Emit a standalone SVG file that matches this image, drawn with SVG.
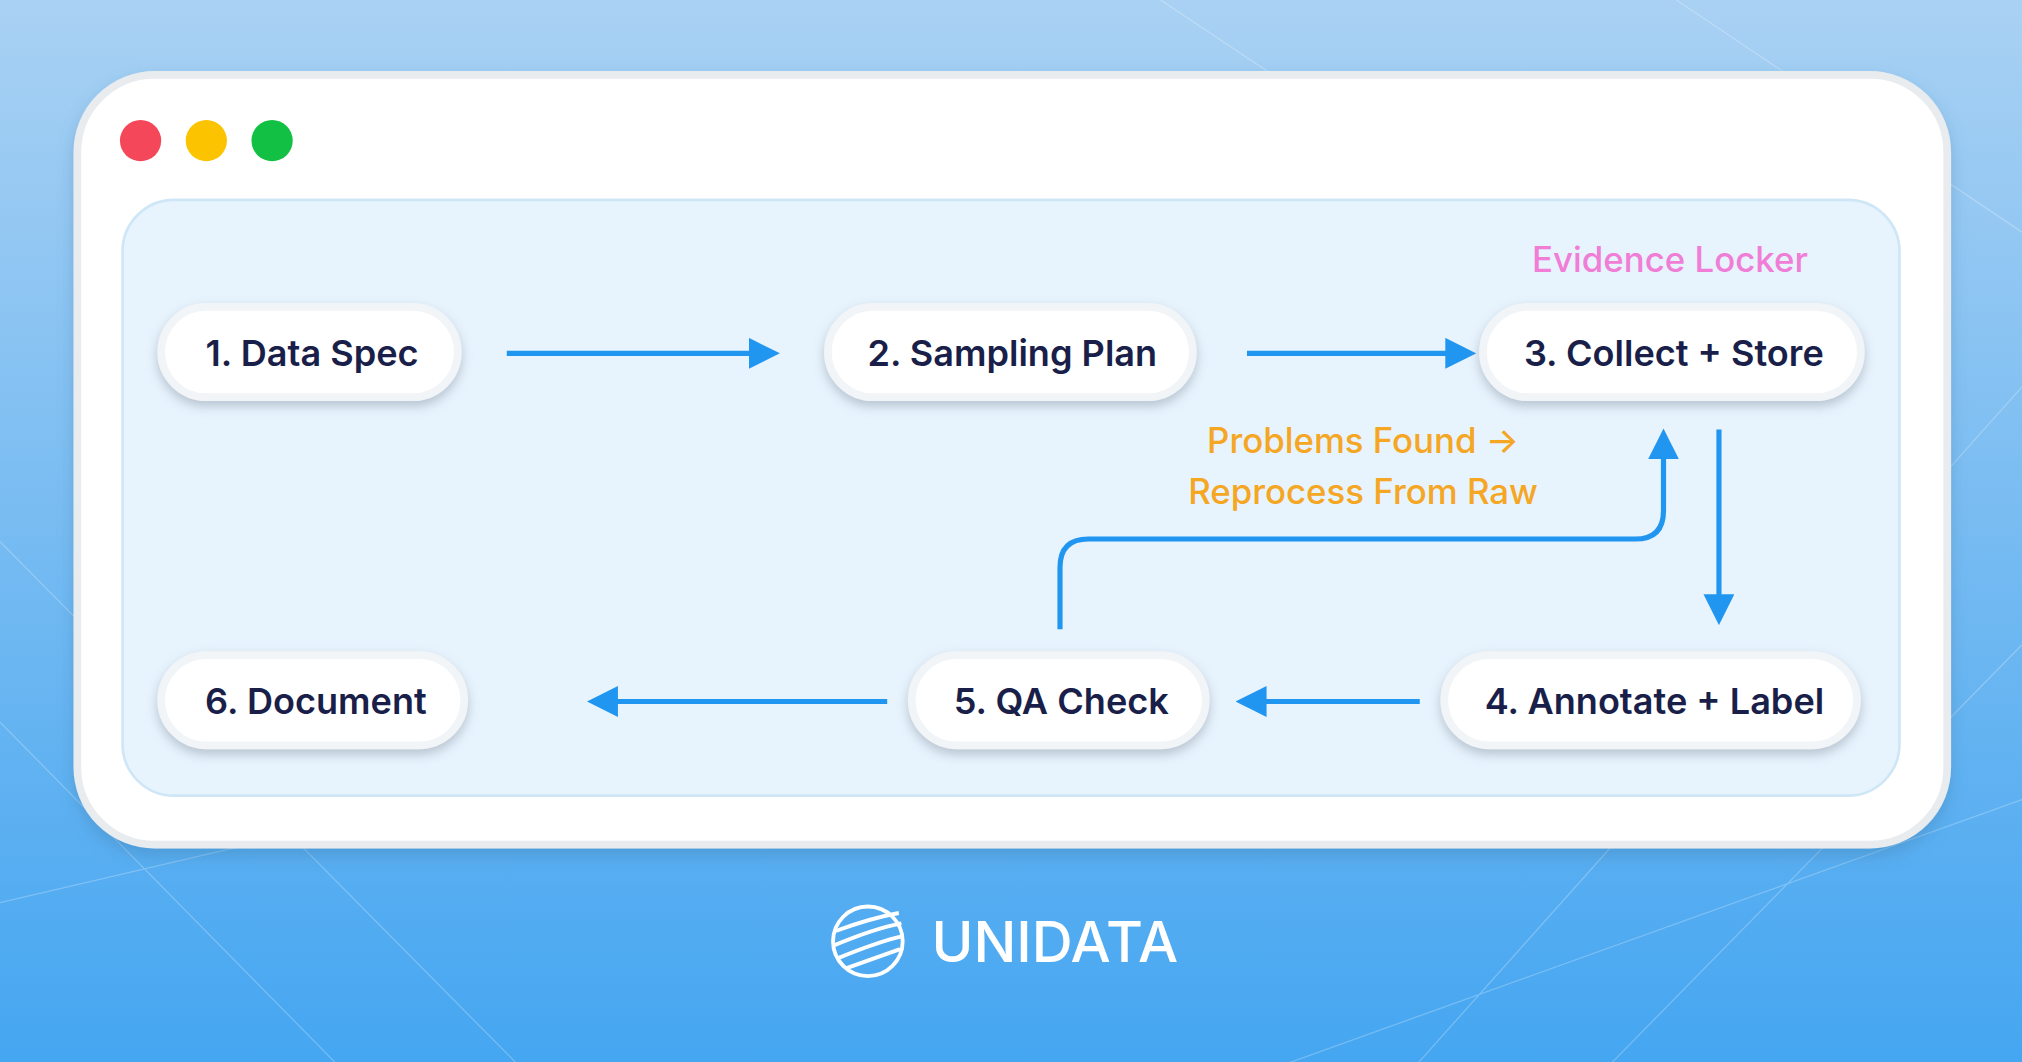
<svg xmlns="http://www.w3.org/2000/svg" width="2022" height="1062" viewBox="0 0 2022 1062">
<defs>
<linearGradient id="bg" x1="0" y1="0" x2="0" y2="1"><stop offset="0" stop-color="#a9d1f3"/><stop offset="1" stop-color="#45a6f1"/></linearGradient>
<filter id="sh" x="-20%" y="-40%" width="140%" height="180%"><feDropShadow dx="0" dy="4" stdDeviation="4" flood-color="#7a8a9a" flood-opacity="0.45"/></filter>
<filter id="wsh" x="-5%" y="-5%" width="110%" height="115%"><feDropShadow dx="0" dy="6" stdDeviation="6" flood-color="#3a6f9a" flood-opacity="0.3"/></filter>
<marker id="ah" viewBox="0 0 10 10" refX="8" refY="5" markerWidth="6" markerHeight="6" orient="auto-start-reverse" markerUnits="strokeWidth"><path d="M0,0 L10,5 L0,10 z" fill="#2196f0"/></marker>
<style>
.pill{fill:#ffffff;stroke:#f2f5f8;stroke-width:6}
.lbl{font-family:Inter,"Liberation Sans",sans-serif;font-weight:600;font-size:28px;fill:#1a1f4a;text-anchor:middle}
.ln{fill:none;stroke:#2196f0;stroke-width:4}
.note{font-family:Inter,"Liberation Sans",sans-serif;font-weight:500;font-size:27px;text-anchor:middle}
</style>
</defs>
<rect width="2022" height="1062" fill="url(#bg)"/>
<g transform="scale(1.28954)">
<g stroke="#ffffff" stroke-opacity="0.25" stroke-width="1" fill="none">
<path d="M0,420 L400,824 M0,560 L260,824 M1568,300 L1100,824 M1568,500 L1250,824 M900,0 L1200,200 M1300,0 L1568,180 M0,700 L600,560 M1000,824 L1568,620"/>
</g>
<rect x="60" y="58" width="1450" height="597" rx="60" fill="#ffffff" stroke="#e9ecef" stroke-width="6" filter="url(#wsh)"/>
<circle cx="109" cy="109" r="16" fill="#f5475a"/>
<circle cx="160" cy="109" r="16" fill="#fcc400"/>
<circle cx="211" cy="109" r="16" fill="#12c043"/>
<rect x="95" y="155" width="1378" height="462" rx="40" fill="#e7f3fd" stroke="#cfe6f7" stroke-width="2"/>
<g id="connectors">
<path class="ln" d="M393,274 H600" marker-end="url(#ah)"/>
<path class="ln" d="M967,274 H1140" marker-end="url(#ah)"/>
<path class="ln" d="M1333,333 V480" marker-end="url(#ah)"/>
<path class="ln" d="M1101,544 H963" marker-end="url(#ah)"/>
<path class="ln" d="M688,544 H460" marker-end="url(#ah)"/>
<path class="ln" d="M822,488 V440 Q822,418 844,418 H1268 Q1290,418 1290,396 V337" marker-end="url(#ah)"/>
</g>
<g id="n1"><rect class="pill" x="125" y="238" width="230" height="70" rx="35" filter="url(#sh)"/><text class="lbl" x="242" y="284">1.  Data Spec</text></g>
<g id="n2"><rect class="pill" x="642" y="238" width="283" height="70" rx="35" filter="url(#sh)"/><text class="lbl" x="785" y="284">2.  Sampling Plan</text></g>
<g id="n3"><rect class="pill" x="1150" y="238" width="293" height="70" rx="35" filter="url(#sh)"/><text class="lbl" x="1298" y="284">3.  Collect + Store</text></g>
<g id="n4"><rect class="pill" x="1120" y="508" width="320" height="70" rx="35" filter="url(#sh)"/><text class="lbl" x="1283" y="554">4.  Annotate + Label</text></g>
<g id="n5"><rect class="pill" x="707" y="508" width="228" height="70" rx="35" filter="url(#sh)"/><text class="lbl" x="823" y="554">5.  QA Check</text></g>
<g id="n6"><rect class="pill" x="125" y="508" width="235" height="70" rx="35" filter="url(#sh)"/><text class="lbl" x="245" y="554">6.  Document</text></g>
<text class="note" x="1295" y="211" fill="#f07ed6">Evidence Locker</text>
<text class="note" x="1057" y="351" fill="#f5a623">Problems Found →</text>
<text class="note" x="1057" y="391" fill="#f5a623">Reprocess From Raw</text>
<g id="logo">
<circle cx="673" cy="730" r="27" fill="none" stroke="#ffffff" stroke-width="3"/>
<g stroke="#ffffff" stroke-width="3" fill="none"><path d="M648,722 Q675,712 697,708"/><path d="M647,733 Q678,720 699,716"/><path d="M650,743 Q682,730 700,726"/><path d="M656,751 Q684,741 698,736"/></g>
<text x="818" y="746" font-family="Inter,'Liberation Sans',sans-serif" font-size="44" font-weight="500" fill="#ffffff" text-anchor="middle">UNIDATA</text>
</g>
</g>
</svg>
